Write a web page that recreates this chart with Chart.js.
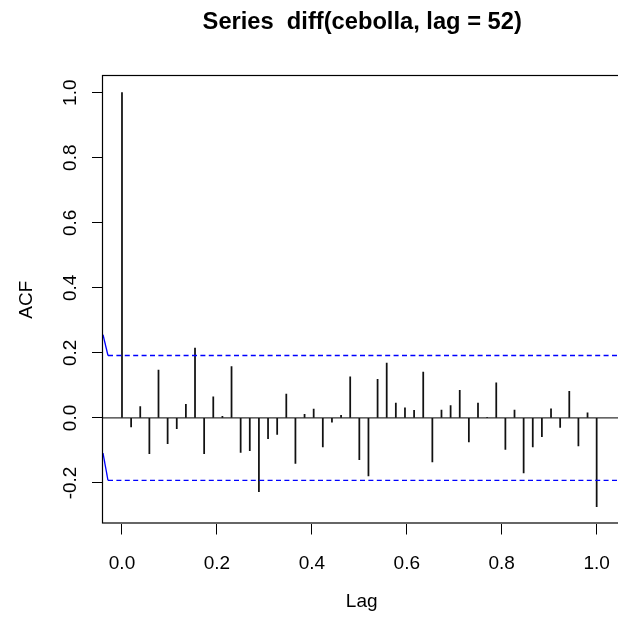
<!DOCTYPE html>
<html>
<head>
<meta charset="utf-8">
<script src="https://cdn.jsdelivr.net/npm/chart.js@4.4.1/dist/chart.umd.min.js"></script>
<style>
  html, body { margin: 0; padding: 0; overflow: hidden; background: #fff; }
  canvas { display: block; }
</style>
</head>
<body>
<canvas id="c" width="640" height="626"></canvas>
<script>
// ---- data ----
const chartTitle = 'Series  diff(cebolla, lag = 52)';
const seriesFrequency = 52;
const lagIndex = [0,1,2,3,4,5,6,7,8,9,10,11,12,13,14,15,16,17,18,19,20,21,22,23,24,25,26,27,28,29,30,31,32,33,34,35,36,37,38,39,40,41,42,43,44,45,46,47,48,49,50,51,52];
const acfValues = [
  1.000, -0.028, 0.035, -0.110, 0.147, -0.079, -0.033, 0.042, 0.215, -0.110,
  0.065, 0.005, 0.158, -0.106, -0.101, -0.227, -0.064, -0.051, 0.073, -0.140,
  0.011, 0.027, -0.089, -0.013, 0.008, 0.126, -0.128, -0.178, 0.119, 0.169,
  0.046, 0.031, 0.023, 0.141, -0.135, 0.024, 0.038, 0.085, -0.074, 0.046,
  0.002, 0.108, -0.097, 0.024, -0.169, -0.089, -0.058, 0.028, -0.029, 0.082,
  -0.086, 0.016, -0.273
];
const ciLevel = 0.192;
const ciEdgeValues = [0.256, -0.108];
const xTickValues = [0.0, 0.2, 0.4, 0.6, 0.8, 1.0];
const yTickValues = [-0.2, 0.0, 0.2, 0.4, 0.6, 0.8, 1.0];
const xLimits = [-0.04, 1.05];
const yLimits = [-0.3246, 1.0513];
const ciStartLag = -0.0295;

// ---- build ----
const barData = lagIndex.map((k, i) => ({ x: k / seriesFrequency, y: acfValues[i] }));
const FONT = '"Liberation Sans", Arial, sans-serif';

const frame = {
  id: 'frame',
  beforeDatasetsDraw(chart) {
    const { ctx, chartArea: a, scales: { y } } = chart;
    const y0 = y.getPixelForValue(0);
    ctx.save();
    ctx.strokeStyle = '#333';
    ctx.lineWidth = 1.3;
    ctx.beginPath();
    ctx.moveTo(a.left, y0);
    ctx.lineTo(a.right, y0);
    ctx.stroke();
    ctx.restore();
  },
  afterDraw(chart) {
    const { ctx, chartArea: a } = chart;
    ctx.save();
    ctx.strokeStyle = '#000';
    ctx.lineWidth = 1.2;
    ctx.strokeRect(Math.round(a.left) - 0.5, Math.round(a.top) - 0.5, a.right - a.left, a.bottom - a.top);
    ctx.fillStyle = '#000';
    ctx.font = 'bold 23.7px ' + FONT;
    ctx.textAlign = 'center';
    ctx.textBaseline = 'middle';
    ctx.fillText(chartTitle, (a.left + a.right) / 2 + 0.5, 22);
    ctx.restore();
  }
};

const blue = '#0000ff';
const datasets = [
  { type: 'line', order: 0, data: [{ x: xLimits[0], y: ciEdgeValues[0] }, { x: ciStartLag, y: ciLevel }],
    borderColor: blue, borderWidth: 1.3, pointRadius: 0, fill: false },
  { type: 'line', order: 0, data: [{ x: xLimits[0], y: ciEdgeValues[1] }, { x: ciStartLag, y: -ciLevel }],
    borderColor: blue, borderWidth: 1.3, pointRadius: 0, fill: false },
  { type: 'line', order: 0, data: [{ x: ciStartLag, y: ciLevel }, { x: xLimits[1], y: ciLevel }],
    borderColor: blue, borderWidth: 1.3, borderDash: [5, 3.4], pointRadius: 0, fill: false },
  { type: 'line', order: 0, data: [{ x: ciStartLag, y: -ciLevel }, { x: xLimits[1], y: -ciLevel }],
    borderColor: blue, borderWidth: 1.3, borderDash: [5, 3.4], pointRadius: 0, fill: false },
  { type: 'bar', order: 1, data: barData, backgroundColor: '#111', borderWidth: 0,
    barThickness: 1.1 }
];

new Chart(document.getElementById('c'), {
  type: 'bar',
  data: { datasets },
  plugins: [frame],
  options: {
    responsive: false,
    animation: false,
    layout: { padding: { left: 0, top: 76, right: 19.6, bottom: 0 } },
    plugins: { legend: { display: false }, tooltip: { enabled: false }, title: { display: false } },
    scales: {
      x: {
        type: 'linear', min: xLimits[0], max: xLimits[1], offset: false,
        afterBuildTicks: s => { s.ticks = xTickValues.map(v => ({ value: v })); },
        afterFit: s => { s.height = 102.5; },
        ticks: { color: '#000', font: { size: 19, family: FONT }, padding: 17.6, autoSkip: false,
                 maxRotation: 0, minRotation: 0, callback: v => Number(v).toFixed(1) },
        grid: { drawOnChartArea: false, drawTicks: true, tickLength: 11, color: '#000', lineWidth: 1, offset: false },
        border: { display: false },
        title: { display: true, text: 'Lag', color: '#000', font: { size: 19, family: FONT },
                 padding: { top: 0, bottom: 12.9 } }
      },
      y: {
        type: 'linear', min: yLimits[0], max: yLimits[1],
        afterBuildTicks: s => { s.ticks = yTickValues.map(v => ({ value: v })); },
        afterFit: s => { s.width = 103; },
        ticks: { color: '#000', font: { size: 19, family: FONT }, padding: 5.3, autoSkip: false,
                 minRotation: 90, maxRotation: 90, crossAlign: 'center',
                 callback: v => Number(v).toFixed(1) },
        grid: { drawOnChartArea: false, drawTicks: true, tickLength: 11, color: '#000', lineWidth: 1 },
        border: { display: false },
        title: { display: true, text: 'ACF', color: '#000', font: { size: 19, family: FONT },
                 padding: { top: 15.3, bottom: 0 } }
      }
    }
  }
});
</script>
</body>
</html>
